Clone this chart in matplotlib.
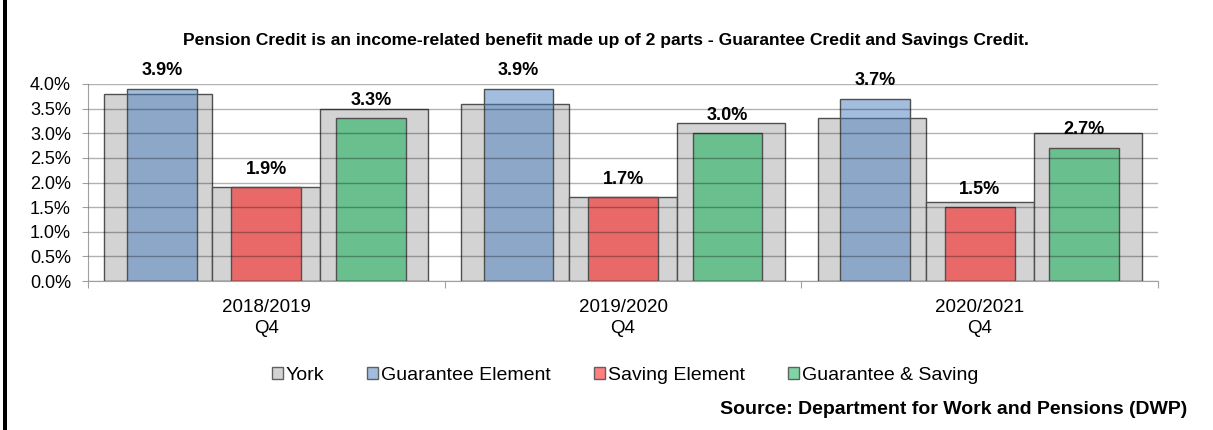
import matplotlib
matplotlib.use('Agg')
import matplotlib.pyplot as plt
import matplotlib.patches as patches
import numpy as np
from matplotlib.ticker import FuncFormatter

plt.rcParams['font.family'] = ['Liberation Sans', 'DejaVu Sans']

# data
periods = ['2018/2019\nQ4', '2019/2020\nQ4', '2020/2021\nQ4']
york = [[3.8, 1.9, 3.5], [3.6, 1.7, 3.2], [3.3, 1.6, 3.0]]
guarantee = [3.9, 3.9, 3.7]
saving = [1.9, 1.7, 1.5]
guar_saving = [3.3, 3.0, 2.7]
series_names = ['Guarantee Element', 'Saving Element', 'Guarantee & Saving']
yticks = [0, 0.5, 1.0, 1.5, 2.0, 2.5, 3.0, 3.5, 4.0]

grey = '#d3d3d3'
edge = '#505050'
colours = [(70/255, 124/255, 190/255, 0.5), (1.0, 0.0, 0.0, 0.5), (0.0, 0.68, 0.29, 0.5)]

fig = plt.figure(figsize=(12.13, 4.3), dpi=100)
ax = fig.add_axes([88/1213, 1 - 281/430, (1158 - 88)/1213, (281 - 84)/430])

x = np.arange(len(periods))
grey_w = 0.303
col_w = 0.196
col_off = 0.293

# York bars (behind)
for k in range(3):
    vals = [york[i][k] for i in range(len(periods))]
    ax.bar(x + (k - 1) * grey_w, vals, width=grey_w, color=grey,
           edgecolor=edge, linewidth=1, zorder=1)

# element bars
for k, vals in enumerate([guarantee, saving, guar_saving]):
    bars = ax.bar(x + (k - 1) * col_off, vals, width=col_w, facecolor=colours[k],
                  edgecolor=edge, linewidth=1, zorder=2)
    for b, v in zip(bars, vals):
        ax.annotate(f'{v:.1f}%', (b.get_x() + b.get_width() / 2, v),
                    xytext=(0, 13), textcoords='offset points',
                    ha='center', va='center', fontsize=13, fontweight='bold', zorder=5)

ax.set_xlim(-0.5, 2.5)
ax.set_ylim(0, 4.0)
ax.set_yticks(yticks)
ax.yaxis.set_major_formatter(FuncFormatter(lambda v, p: f'{v:.1f}%'))
ax.tick_params(axis='y', labelsize=13, length=4.3, color='#a0a0a0', pad=8)
ax.set_xticks([-0.5, 0.5, 1.5, 2.5])
ax.set_xticklabels([])
ax.tick_params(axis='x', length=5, color='#a0a0a0')
for i, lab in enumerate(periods):
    ax.text(i, -0.37, lab, ha='center', va='top', fontsize=13.5,
            linespacing=1.3, transform=ax.transData)

ax.grid(axis='y', color='k', alpha=0.3, linewidth=1, zorder=3)
ax.set_axisbelow(False)
for s in ['top', 'right']:
    ax.spines[s].set_visible(False)
ax.spines['left'].set_color('#a0a0a0')
ax.spines['bottom'].set_color('#a0a0a0')

fig.text(606/1213, 1 - 41/430,
         'Pension Credit is an income-related benefit made up of 2 parts - Guarantee Credit and Savings Credit.',
         ha='center', va='center', fontsize=12.6, fontweight='bold')

handles = [patches.Patch(facecolor=grey, edgecolor='#606060', label='York')]
for c, n in zip(colours, series_names):
    handles.append(patches.Patch(facecolor=c, edgecolor='#606060', label=n))
fig.legend(handles=handles, loc='center', bbox_to_anchor=(625/1213, 1 - 375/430),
           ncol=4, frameon=False, fontsize=14, handlelength=0.57, handleheight=0.57,
           handletextpad=0.15, columnspacing=2.2, borderpad=0)

fig.text(1187/1213, 1 - 409/430, 'Source: Department for Work and Pensions (DWP)',
         ha='right', va='center', fontsize=14, fontweight='bold')

# black frame edge on the left
fig.patches.append(patches.Rectangle((3/1213, 0), 4/1213, 1, transform=fig.transFigure,
                                     facecolor='black', edgecolor='none'))

fig.savefig('out.png', dpi=100)
